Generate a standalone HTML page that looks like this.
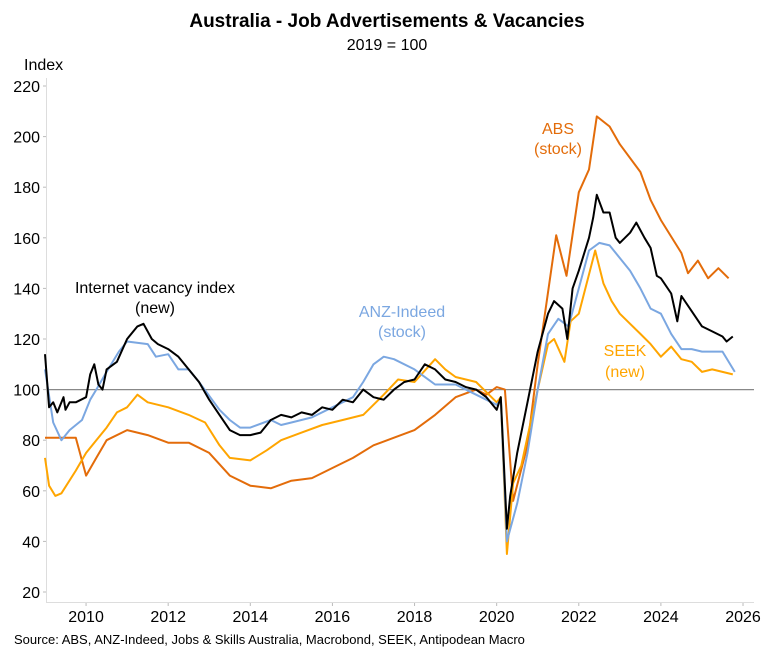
<!DOCTYPE html>
<html><head><meta charset="utf-8"><style>
body{margin:0;background:#fff;}
svg text{font-family:"Liberation Sans",Arial,sans-serif;}
</style></head><body>
<svg id="c" width="774" height="656" xmlns="http://www.w3.org/2000/svg">
<text x="387" y="27" text-anchor="middle" font-size="19" font-weight="bold">Australia - Job Advertisements &amp; Vacancies</text>
<text x="387" y="50" text-anchor="middle" font-size="16">2019 = 100</text>
<text x="24" y="70" font-size="16">Index</text>
<g id="axes"></g>
<g id="series"></g>
<text x="155" y="293" text-anchor="middle" font-size="16" fill="#000">Internet vacancy index</text>
<text x="155" y="313" text-anchor="middle" font-size="16" fill="#000">(new)</text>
<text x="402" y="317" text-anchor="middle" font-size="16" fill="#7BA7E1">ANZ-Indeed</text>
<text x="402" y="337" text-anchor="middle" font-size="16" fill="#7BA7E1">(stock)</text>
<text x="558" y="134" text-anchor="middle" font-size="16" fill="#E36C0A">ABS</text>
<text x="558" y="154" text-anchor="middle" font-size="16" fill="#E36C0A">(stock)</text>
<text x="625" y="356" text-anchor="middle" font-size="16" fill="#FFA500">SEEK</text>
<text x="625" y="377" text-anchor="middle" font-size="16" fill="#FFA500">(new)</text>
<text x="14" y="644" font-size="13">Source: ABS, ANZ-Indeed, Jobs &amp; Skills Australia, Macrobond, SEEK, Antipodean Macro</text>
</svg>
<script>
const yTicks=[20,40,60,80,100,120,140,160,180,200,220];
const xTicks=[2010,2012,2014,2016,2018,2020,2022,2024,2026];
const iviYears=[2009.0,2009.1,2009.2,2009.3,2009.45,2009.5,2009.6,2009.75,2010.0,2010.1,2010.2,2010.3,2010.4,2010.5,2010.75,2011.0,2011.25,2011.4,2011.6,2011.75,2012.0,2012.25,2012.5,2012.75,2013.0,2013.25,2013.5,2013.75,2014.0,2014.25,2014.5,2014.75,2015.0,2015.25,2015.5,2015.75,2016.0,2016.25,2016.5,2016.75,2017.0,2017.25,2017.5,2017.75,2018.0,2018.25,2018.5,2018.75,2019.0,2019.25,2019.5,2019.75,2020.0,2020.1,2020.25,2020.33,2020.5,2020.75,2021.0,2021.25,2021.4,2021.6,2021.72,2021.85,2022.0,2022.25,2022.35,2022.44,2022.6,2022.75,2022.9,2023.0,2023.25,2023.4,2023.6,2023.75,2023.9,2024.0,2024.25,2024.4,2024.5,2024.75,2025.0,2025.25,2025.5,2025.6,2025.75];
const iviValues=[114,93,95,91,97,92,95,95,97,106,110,102,100,108,111,120,125,126,120,118,116,113,108,103,96,90,84,82,82,83,88,90,89,91,90,93,92,96,95,100,97,96,100,103,104,110,108,104,103,101,100,97,92,97,45,58,75,95,115,130,135,132,120,140,147,160,168,177,170,170,160,158,162,166,160,156,145,144,138,127,137,131,125,123,121,119,121];
const absYears=[2009.0,2009.75,2010.0,2010.25,2010.5,2011.0,2011.5,2012.0,2012.5,2013.0,2013.5,2014.0,2014.5,2015.0,2015.5,2016.0,2016.5,2017.0,2017.5,2018.0,2018.5,2019.0,2019.5,2019.75,2020.0,2020.2,2020.4,2020.75,2021.0,2021.45,2021.7,2022.0,2022.25,2022.44,2022.75,2023.0,2023.5,2023.75,2024.0,2024.5,2024.66,2024.9,2025.15,2025.4,2025.65];
const absValues=[81,81,66,73,80,84,82,79,79,75,66,62,61,64,65,69,73,78,81,84,90,97,100,98,101,100,56,78,110,161,145,178,187,208,204,197,186,175,167,154,146,151,144,148,144];
const seekYears=[2009.0,2009.1,2009.25,2009.4,2009.75,2010.0,2010.25,2010.5,2010.75,2011.0,2011.25,2011.5,2012.0,2012.5,2012.9,2013.25,2013.5,2014.0,2014.4,2014.75,2015.25,2015.75,2016.25,2016.75,2017.25,2017.6,2018.0,2018.5,2018.75,2019.0,2019.5,2020.0,2020.1,2020.25,2020.4,2020.6,2021.0,2021.25,2021.4,2021.65,2021.8,2022.0,2022.4,2022.6,2022.8,2023.0,2023.25,2023.5,2023.75,2024.0,2024.25,2024.5,2024.75,2025.0,2025.25,2025.5,2025.75];
const seekValues=[73,62,58,59,68,75,80,85,91,93,98,95,93,90,87,78,73,72,76,80,83,86,88,90,98,104,103,112,108,105,103,95,97,35,63,70,100,118,120,111,127,130,155,142,135,130,126,122,118,113,117,112,111,107,108,107,106];
const anzYears=[2009.0,2009.2,2009.4,2009.6,2009.9,2010.1,2010.25,2010.5,2010.8,2011.0,2011.5,2011.7,2012.0,2012.25,2012.5,2012.75,2013.25,2013.5,2013.75,2014.0,2014.5,2014.75,2015.0,2015.5,2016.0,2016.5,2016.75,2017.0,2017.25,2017.5,2018.0,2018.5,2019.0,2019.5,2020.0,2020.1,2020.25,2020.5,2020.75,2021.0,2021.25,2021.5,2021.75,2022.0,2022.25,2022.5,2022.75,2023.0,2023.25,2023.5,2023.75,2024.0,2024.25,2024.5,2024.75,2025.0,2025.5,2025.8];
const anzValues=[108,87,80,84,88,96,100,107,115,119,118,113,114,108,108,103,92,88,85,85,88,86,87,89,93,97,103,110,113,112,108,102,102,98,94,96,40,55,75,100,122,128,125,140,155,158,157,152,147,140,132,130,122,116,116,115,115,107];
const NS='http://www.w3.org/2000/svg';
const X0=45,PX=41.06,Y0=592,PY=2.53;
function xs(yr){return X0+(yr-2009)*PX;}
function ys(v){return Y0-(v-20)*PY;}
const ax=document.getElementById('axes');
function ln(x1,y1,x2,y2,c,w,name){
  const l=document.createElementNS(NS,'line');
  l.setAttribute('x1',x1);l.setAttribute('y1',y1);l.setAttribute('x2',x2);l.setAttribute('y2',y2);
  l.setAttribute('stroke',c);l.setAttribute('stroke-width',w);
  
  
  ax.appendChild(l);
}
ln(46.5,78,46.5,602,'#ddd',1,'y-axis-line');
ln(46,602.5,754,602.5,'#ddd',1,'x-axis-line');
yTicks.forEach(t=>{
  ln(43,ys(t),46,ys(t),'#bbb',1,'y-tick');
  const tx=document.createElementNS(NS,'text');
  tx.setAttribute('x',40);tx.setAttribute('y',ys(t)+6);tx.setAttribute('text-anchor','end');tx.setAttribute('font-size','16');
  tx.textContent=t;
  
  
  ax.appendChild(tx);
});
xTicks.forEach(t=>{
  ln(xs(t),603,xs(t),606,'#bbb',1,'x-tick');
  const tx=document.createElementNS(NS,'text');
  tx.setAttribute('x',xs(t));tx.setAttribute('y',622);tx.setAttribute('text-anchor','middle');tx.setAttribute('font-size','16');
  tx.textContent=t;
  
  
  ax.appendChild(tx);
});
ln(47,ys(100),754,ys(100),'#888',1.3,'baseline-100');
const sg=document.getElementById('series');
function draw(yrs,vals,color,name){
  const p=document.createElementNS(NS,'path');
  p.setAttribute('d',yrs.map((y,i)=>(i?'L':'M')+xs(y).toFixed(1)+','+ys(vals[i]).toFixed(1)).join(''));
  p.setAttribute('fill','none');p.setAttribute('stroke',color);p.setAttribute('stroke-width','2');p.setAttribute('stroke-linejoin','round');
  
  
  sg.appendChild(p);
}
draw(absYears,absValues,'#E36C0A','abs-line');
draw(seekYears,seekValues,'#FFA500','seek-line');
draw(anzYears,anzValues,'#7BA7E1','anz-indeed-line');
draw(iviYears,iviValues,'#000','ivi-line');
</script>
</body></html>
